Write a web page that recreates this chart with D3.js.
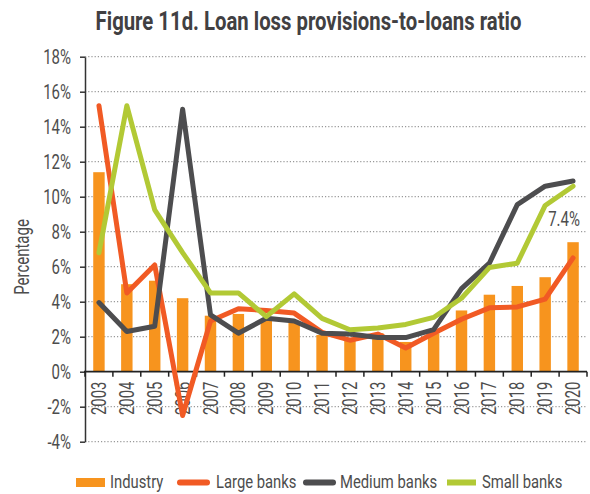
<!DOCTYPE html>
<html><head><meta charset="utf-8">
<script src="https://cdn.jsdelivr.net/npm/d3@7/dist/d3.min.js"></script>
<style>
body{margin:0;background:#fff}
text{font-family:Roboto,"Liberation Sans",sans-serif}
</style>
</head><body>
<svg id="c" width="590" height="494"></svg>
<script>
const years = ["2003","2004","2005","2006","2007","2008","2009","2010","2011","2012","2013","2014","2015","2016","2017","2018","2019","2020"];
const industry = [11.4, 5.0, 5.2, 4.2, 3.2, 3.3, 3.0, 2.9, 2.1, 1.8, 2.2, 1.7, 2.2, 3.5, 4.4, 4.9, 5.4, 7.4];
const largeBanks = [15.2, 4.5, 6.1, -2.5, 2.9, 3.6, 3.5, 3.35, 2.25, 1.8, 2.15, 1.35, 2.2, 3.0, 3.65, 3.7, 4.15, 6.5];
const mediumBanks = [3.95, 2.3, 2.6, 15.0, 3.25, 2.2, 3.05, 2.9, 2.2, 2.15, 1.95, 1.95, 2.4, 4.75, 6.2, 9.55, 10.6, 10.9];
const smallBanks = [6.8, 15.2, 9.25, 6.8, 4.5, 4.5, 3.15, 4.45, 3.05, 2.4, 2.5, 2.7, 3.1, 4.2, 5.95, 6.2, 9.5, 10.6];
const yTicks = [-4, -2, 0, 2, 4, 6, 8, 10, 12, 14, 16, 18];
const seriesNames = ["Industry", "Large banks", "Medium banks", "Small banks"];
const annotation = {year: "2020", value: 7.4, label: "7.4%"};

const colors = {industry:"#F7941E", large:"#F15A24", medium:"#4D4D4F", small:"#B2C935"};
const textColor = "#4d4d4d";
const K = 0.75; // horizontal condensing of text

function condense(sel, k) {
  sel.each(function() {
    const t = d3.select(this);
    const xx = +t.attr("x") || 0, yy = +t.attr("y") || 0;
    const tr = t.attr("transform") || "";
    t.attr("x", 0).attr("y", 0).attr("transform", `${tr} translate(${xx},${yy}) scale(${k},1)`);
  });
}

const svg = d3.select("#c");
const mLeft = 85, mRight = 587, mTop = 56.7, mBottom = 441.7;

const x = d3.scaleBand().domain(years).range([mLeft, mRight]).padding(0);
const y = d3.scaleLinear().domain([-4, 18]).range([mBottom, mTop]);
const cx = d => x(d) + x.bandwidth() / 2;
const bw = x.bandwidth() * 0.41;

// gridlines
svg.append("g").selectAll("line").data(yTicks.filter(d => d !== 0)).join("line")
  .attr("x1", mLeft).attr("x2", mRight)
  .attr("y1", d => y(d)).attr("y2", d => y(d))
  .attr("stroke", "#999").attr("stroke-width", 1.2).attr("stroke-dasharray", "1.2,2");

// bars
svg.append("g").selectAll("rect").data(years).join("rect")
  .attr("x", (d) => cx(d) - bw / 2)
  .attr("width", bw)
  .attr("y", (d, i) => Math.min(y(industry[i]), y(0)))
  .attr("height", (d, i) => Math.abs(y(0) - y(industry[i])))
  .attr("fill", colors.industry);

// y axis
const yAxis = svg.append("g").attr("transform", `translate(${mLeft},0)`)
  .call(d3.axisLeft(y).tickValues(yTicks).tickFormat(d => d + "%").tickSize(5).tickPadding(9).tickSizeOuter(0));
yAxis.select(".domain").attr("stroke", "#333").attr("stroke-width", 1.5);
yAxis.selectAll(".tick line").attr("stroke", "#333").attr("stroke-width", 1.5);
yAxis.selectAll("text").attr("fill", textColor).style("font-size", "20px").style("font-family", "Roboto");
condense(yAxis.selectAll("text"), K);

// x axis
const y0 = y(0);
const xAxis = svg.append("g").attr("transform", `translate(0,${y0})`);
xAxis.append("line").attr("x1", mLeft - 1).attr("x2", mRight).attr("y1", 0).attr("y2", 0)
  .attr("stroke", "#222").attr("stroke-width", 1.8);
const bounds = years.map(d => x(d)).concat([mRight]);
xAxis.selectAll("line.tk").data(bounds).join("line").attr("class", "tk")
  .attr("x1", d => d).attr("x2", d => d).attr("y1", 0).attr("y2", 5)
  .attr("stroke", "#222").attr("stroke-width", 1.5);
const xl = xAxis.selectAll("text").data(years).join("text")
  .attr("transform", d => `translate(${cx(d)},10) rotate(-90)`)
  .attr("text-anchor", "end").attr("dy", "0.35em")
  .attr("fill", textColor).style("font-size", "20px")
  .text(d => d);
condense(xl, 0.74);

// lines
const line = vals => d3.line().x((d, i) => cx(years[i])).y(d => y(d))(vals);
[[largeBanks, colors.large], [mediumBanks, colors.medium], [smallBanks, colors.small]].forEach(([vals, c]) => {
  svg.append("path").attr("d", line(vals)).attr("fill", "none").attr("stroke", c)
    .attr("stroke-width", 5).attr("stroke-linejoin", "round").attr("stroke-linecap", "round");
});

// annotation
const ann = svg.append("text").attr("x", cx(annotation.year) - 9).attr("y", y(annotation.value) - 16)
  .attr("text-anchor", "middle").attr("fill", textColor).style("font-size", "20px")
  .text(annotation.label);
condense(ann, K);

// y label
const yl = svg.append("text").attr("transform", "translate(22,257) rotate(-90)")
  .attr("text-anchor", "middle").attr("dy", "0.35em").attr("fill", textColor)
  .style("font-size", "20px").text("Percentage");
condense(yl, K);

// title
const title = svg.append("text").attr("x", 308.5).attr("y", 30).attr("text-anchor", "middle")
  .attr("fill", "#414042").style("font-size", "25px").style("font-weight", "bold")
  .text("Figure 11d. Loan loss provisions-to-loans ratio");
const tw = title.node().getComputedTextLength();
condense(title, 426 / tw);

// legend
const lg = svg.append("g");
const legendItems = [
  {name: seriesNames[0], type: "rect", c: colors.industry, sx: 76, sw: 29, tx: 110, h: 9},
  {name: seriesNames[1], type: "line", c: colors.large, sx: 177, sw: 33, tx: 216},
  {name: seriesNames[2], type: "line", c: colors.medium, sx: 303, sw: 33, tx: 340},
  {name: seriesNames[3], type: "rect", c: colors.small, sx: 447, sw: 29, tx: 482, h: 6}
];
const ly = 482.5;
legendItems.forEach(it => {
  if (it.type === "rect") {
    lg.append("rect").attr("x", it.sx).attr("y", ly - it.h / 2).attr("width", it.sw).attr("height", it.h)
      .attr("fill", it.c);
  } else {
    lg.append("line").attr("x1", it.sx + 3).attr("x2", it.sx + it.sw - 3).attr("y1", ly).attr("y2", ly)
      .attr("stroke", it.c).attr("stroke-width", 6).attr("stroke-linecap", "round");
  }
  const t = lg.append("text").attr("x", it.tx).attr("y", ly + 5).attr("fill", textColor)
    .style("font-size", "19px").text(it.name);
  condense(t, 0.78);
});
</script>
</body></html>
